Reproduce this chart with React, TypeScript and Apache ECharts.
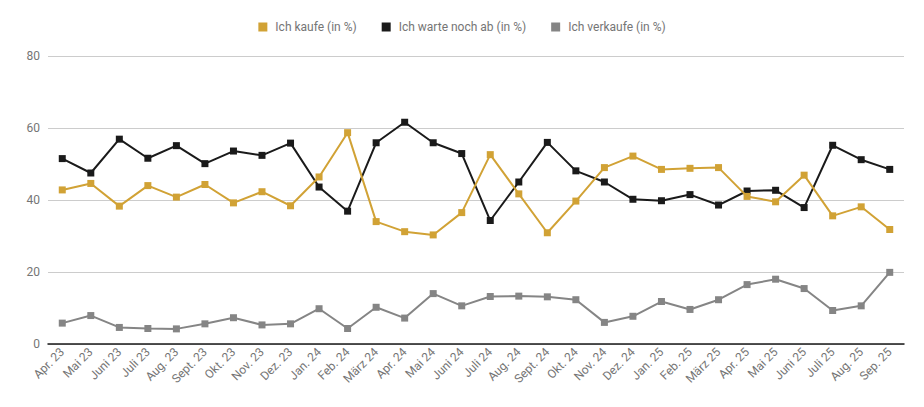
import React, { useEffect, useRef } from "react";
import * as echarts from "echarts";

const categories = [
  "Apr. 23", "Mai 23", "Juni 23", "Juli 23", "Aug. 23", "Sept. 23", "Okt. 23", "Nov. 23", "Dez. 23",
  "Jan. 24", "Feb. 24", "März 24", "Apr. 24", "Mai 24", "Juni 24", "Juli 24", "Aug. 24", "Sept. 24",
  "Okt. 24", "Nov. 24", "Dez. 24", "Jan. 25", "Feb. 25", "März 25", "Apr. 25", "Mai 25", "Juni 25",
  "Juli 25", "Aug. 25", "Sep. 25",
];

const kaufe = [
  42.8, 44.6, 38.3, 44.0, 40.8, 44.3, 39.2, 42.3, 38.4, 46.4, 58.7, 34.0, 31.2, 30.3, 36.5,
  52.6, 41.7, 30.9, 39.7, 49.0, 52.2, 48.5, 48.8, 49.0, 41.0, 39.5, 46.9, 35.6, 38.1, 31.8,
];

const warte = [
  51.5, 47.5, 56.9, 51.6, 55.1, 50.1, 53.6, 52.4, 55.8, 43.6, 36.9, 55.9, 61.6, 55.9, 52.9,
  34.3, 45.0, 56.0, 48.1, 45.0, 40.2, 39.8, 41.5, 38.6, 42.5, 42.7, 37.9, 55.2, 51.2, 48.5,
];

const verkaufe = [
  5.8, 7.9, 4.6, 4.3, 4.2, 5.6, 7.3, 5.3, 5.6, 9.8, 4.3, 10.2, 7.2, 14.0, 10.6,
  13.2, 13.3, 13.1, 12.3, 6.0, 7.7, 11.8, 9.6, 12.3, 16.5, 18.0, 15.4, 9.3, 10.6, 19.9,
];

const seriesNames = ["Ich kaufe (in %)", "Ich warte noch ab (in %)", "Ich verkaufe (in %)"];
const colors = ["#d1a235", "#1a1a1a", "#858585"];

export default function App() {
  const ref = useRef<HTMLDivElement>(null);
  useEffect(() => {
    if (!ref.current) return;
    const chart = echarts.init(ref.current, undefined, { renderer: "svg" });
    const data = [kaufe, warte, verkaufe];
    chart.setOption({
      animation: false,
      textStyle: { fontFamily: "Roboto" },
      color: colors,
      legend: {
        top: 8,
        left: "center",
        itemWidth: 9,
        itemHeight: 9,
        itemGap: 25,
        icon: "rect",
        textStyle: { color: "#757575", fontSize: 12, fontFamily: "Roboto", padding: [0, 0, 0, 3] },
        data: seriesNames,
      },
      grid: { left: 40, right: 12, top: 48, bottom: 55, containLabel: false },
      xAxis: {
        type: "category",
        data: categories,
        boundaryGap: true,
        axisLine: { lineStyle: { color: "#1a1a1a", width: 1.5 } },
        axisTick: { show: false },
        axisLabel: {
          rotate: 45,
          interval: 0,
          color: "#757575",
          fontSize: 12,
          fontFamily: "Roboto",
          margin: 6,
        },
      },
      yAxis: {
        type: "value",
        min: 0,
        max: 80,
        interval: 20,
        axisLine: { show: false },
        axisTick: { show: false },
        splitLine: { lineStyle: { color: "#cccccc", width: 1 } },
        axisLabel: { color: "#757575", fontSize: 12, fontFamily: "Roboto", margin: 8 },
      },
      series: seriesNames.map((name, i) => ({
        name,
        type: "line",
        data: data[i],
        symbol: "rect",
        symbolSize: 7,
        lineStyle: { width: 2, color: colors[i] },
        itemStyle: { color: colors[i] },
        z: 3 - i,
      })),
    });
    return () => chart.dispose();
  }, []);
  return <div ref={ref} style={{ width: 908, height: 391 }} />;
}
